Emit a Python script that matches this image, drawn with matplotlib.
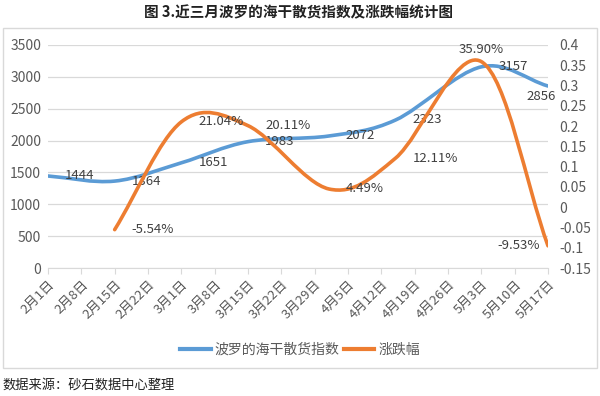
import numpy as np
import matplotlib.pyplot as plt
from matplotlib.path import Path
from matplotlib.patches import PathPatch, Rectangle
from matplotlib.lines import Line2D

plt.rcParams['font.family'] = ['Noto Sans CJK SC', 'DejaVu Sans']

# x axis: weekly date labels, days counted from 2月1日
tick_days = list(range(0, 106, 7))
tick_labels = ['2月1日', '2月8日', '2月15日', '2月22日', '3月1日', '3月8日', '3月15日', '3月22日',
               '3月29日', '4月5日', '4月12日', '4月19日', '4月26日', '5月3日', '5月10日', '5月17日']

# 波罗的海干散货指数 (2/1, 2/15, 3/1, 3/15, 4/1, 4/15, 5/3, 5/17)
index_days = [0, 14, 28, 42, 59, 73, 91, 105]
index_values = [1444, 1364, 1651, 1983, 2072, 2323, 3157, 2856]

# 涨跌幅
change_days = [14, 28, 42, 59, 73, 91, 105]
change_values = [-0.0554, 0.2104, 0.2011, 0.0449, 0.1211, 0.3590, -0.0953]

BLUE = '#5b9bd5'
ORANGE = '#ed7d31'
TXT = '#595959'
LBL = '#404040'


def smooth_path(xs, ys):
    # Catmull-Rom style bezier, like the smoothed lines of a spreadsheet chart
    pts = np.column_stack([xs, ys]).astype(float)
    n = len(pts)
    # mirrored phantom points at both ends
    ext = np.vstack([2 * pts[0] - pts[1], pts, 2 * pts[-1] - pts[-2]])
    verts = [pts[0]]
    codes = [Path.MOVETO]
    for i in range(1, n):
        p0, p1, p2, p3 = ext[i - 1], ext[i], ext[i + 1], ext[i + 2]
        c1 = p1 + (p2 - p0) / 6.0
        c2 = p2 - (p3 - p1) / 6.0
        verts += [c1, c2, p2]
        codes += [Path.CURVE4] * 3
    return Path(verts, codes)


fig = plt.figure(figsize=(6, 3.96), dpi=100)
ax = fig.add_axes([0.08, 0.3232, 0.8333, 0.5632])
ax2 = ax.twinx()

ax.set_xlim(0, 105)
ax.set_ylim(0, 3500)
ax2.set_ylim(-0.15, 0.4)

ax.add_patch(PathPatch(smooth_path(index_days, index_values), facecolor='none',
                       edgecolor=BLUE, lw=2.6, capstyle='round', joinstyle='round'))
ax2.add_patch(PathPatch(smooth_path(change_days, change_values), facecolor='none',
                        edgecolor=ORANGE, lw=2.6, capstyle='round', joinstyle='round'))

# data labels (offsets in pixels)
blue_pos = [(17, 0, 'left')] * 7 + [(-7, -10, 'center')]
for d, v, (dx, dy, ha) in zip(index_days, index_values, blue_pos):
    ax.annotate(str(v), (d, v), xytext=(dx, dy), textcoords='offset pixels',
                ha=ha, va='center', fontsize=9.5, color=LBL)

orange_pos = [(17, 0, 'left')] * 5 + [(0, 12, 'center'), (-8, 0, 'right')]
for d, v, (dx, dy, ha) in zip(change_days, change_values, orange_pos):
    ax2.annotate(f'{v * 100:.2f}%', (d, v), xytext=(dx, dy), textcoords='offset pixels',
                 ha=ha, va='center', fontsize=9.5, color=LBL)

# axes styling
for s in ['top', 'left', 'right']:
    ax.spines[s].set_visible(False)
    ax2.spines[s].set_visible(False)
ax2.spines['bottom'].set_visible(False)
ax.spines['bottom'].set_color('#d9d9d9')

ax.set_yticks(range(0, 3501, 500))
ax.grid(axis='y', color='#d9d9d9', lw=0.9)
ax.set_axisbelow(True)
ax.tick_params(axis='y', length=0, labelsize=10, labelcolor=TXT, pad=5)

r_ticks = np.round(np.arange(-0.15, 0.401, 0.05), 2)
ax2.set_yticks(r_ticks)
ax2.set_yticklabels(['0' if abs(t) < 1e-9 else f'{t:g}' for t in r_ticks])
ax2.tick_params(axis='y', length=0, labelsize=10, labelcolor=TXT, pad=8)

ax.set_xticks(tick_days)
ax.set_xticklabels(tick_labels, rotation=45, ha='right', rotation_mode='anchor')
ax.tick_params(axis='x', length=4, color='#d9d9d9', labelsize=9.5, labelcolor=TXT, pad=3)

handles = [Line2D([], [], color=BLUE, lw=3), Line2D([], [], color=ORANGE, lw=3)]
fig.legend(handles, ['波罗的海干散货指数', '涨跌幅'], loc='center', bbox_to_anchor=(0.5, 1 - 350 / 396),
           ncol=2, frameon=False, fontsize=10, labelcolor=TXT, handlelength=2.2,
           handletextpad=0.3, columnspacing=0.3)

# chart area border
fig.patches.append(Rectangle((3 / 600, 1 - 368 / 396), 594 / 600, 340 / 396, transform=fig.transFigure,
                             fill=False, edgecolor='#d9d9d9', lw=1))

fig.text(0.497, 1 - 12 / 396, '图 3.近三月波罗的海干散货指数及涨跌幅统计图', ha='center', va='center',
         fontsize=10.5, fontweight='bold', color='#222222')
fig.text(2 / 600, 1 - 385 / 396, '数据来源：砂石数据中心整理', ha='left', va='center',
         fontsize=9.5, color='#222222')

fig.savefig('out.png', dpi=100)
